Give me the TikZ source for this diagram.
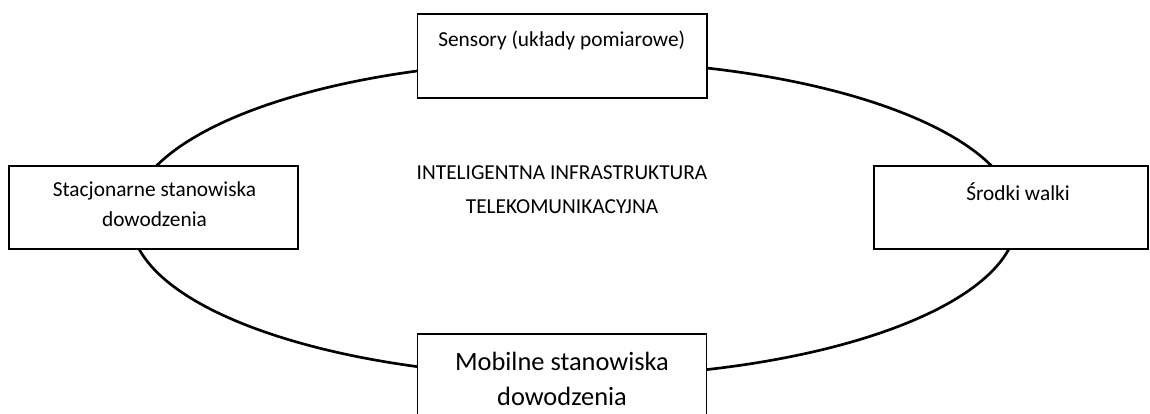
\documentclass[tikz,border=0pt]{standalone}
\usepackage{fontspec}
\setmainfont{Carlito}
\begin{document}
\begin{tikzpicture}[x=0.75pt,y=-0.75pt,
  boxshape/.style={draw=black,line width=1.3pt,fill=white,rectangle,inner sep=0pt},
  lbl/.style={anchor=base,inner sep=0pt,font=\fontsize{16}{22}\selectfont,align=center},
  biglbl/.style={anchor=base,inner sep=0pt,font=\fontsize{19.8}{25.7}\selectfont,align=center},
  ring/.style={draw=black,line width=2pt}]
\path[use as bounding box,clip] (0,0) rectangle (1150,414);
\fill[white] (0,0) rectangle (1150,414);
% ellipse
\draw[ring] (574,218.8) ellipse [x radius=332.25pt, y radius=118.5pt];
% boxes
\node[boxshape,minimum width=217.1pt,minimum height=62.6pt] (top) at (562.25,56) {};
\node[boxshape,minimum width=216.75pt,minimum height=62.25pt] (left) at (153.5,207.5) {};
\node[boxshape,minimum width=205.5pt,minimum height=62.25pt] (right) at (1011,207.5) {};
\node[boxshape,minimum width=216.75pt,minimum height=75pt] (bottom) at (562,384) {};
% texts
\node[lbl] (toptxt) at (561.7,46.7) {Sensory (układy pomiarowe)};
\node[lbl] (lefttxt) at (154.5,226) {Stacjonarne stanowiska\\dowodzenia};
\node[lbl] (righttxt) at (1018,200) {Środki walki};
\node[biglbl] (bottomtxt) at (562,405) {Mobilne stanowiska\\dowodzenia};
\node[lbl,font=\fontsize{16}{25.5}\selectfont] (centertxt) at (562,213) {INTELIGENTNA INFRASTRUKTURA\\TELEKOMUNIKACYJNA};
\end{tikzpicture}
\end{document}
